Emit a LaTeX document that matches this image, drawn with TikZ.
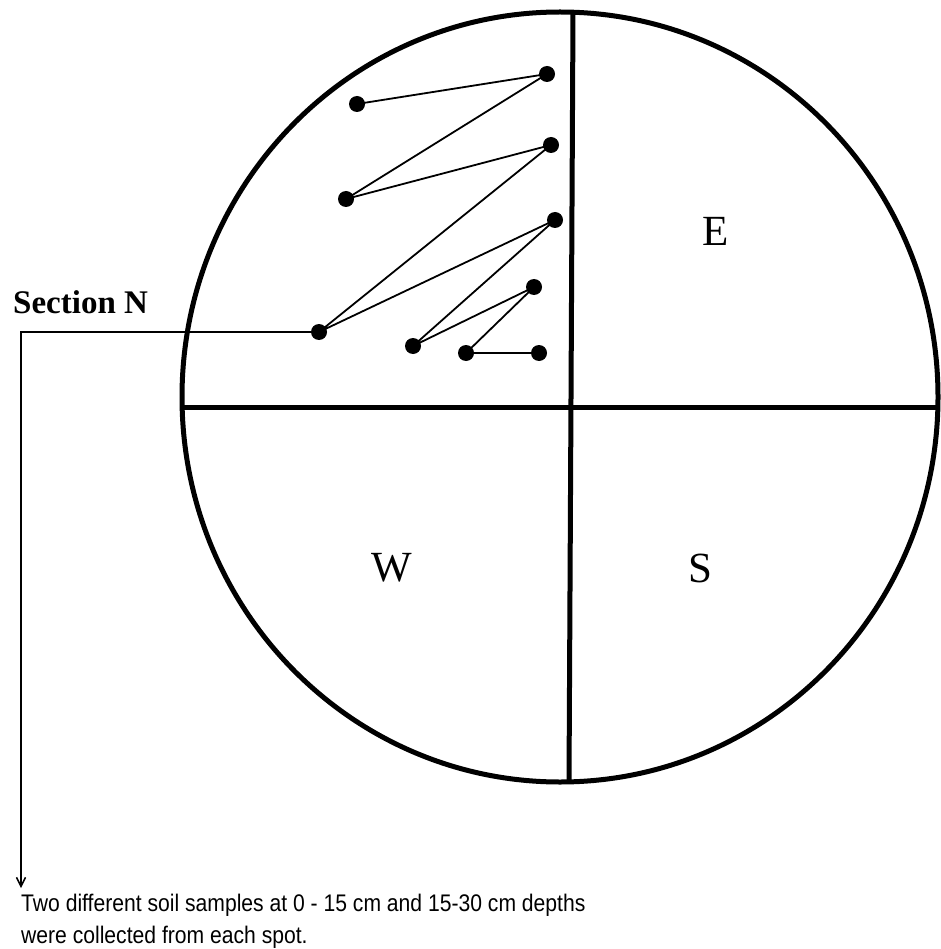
\documentclass[tikz,border=0pt]{standalone}
\usepackage{fontspec}
\setmainfont{Liberation Serif}
\newfontfamily\captionfont{Liberation Sans}[FakeStretch=0.88]
\usetikzlibrary{arrows.meta}
\begin{document}
\begin{tikzpicture}[x=1pt,y=-1pt,
  spot/.style={circle,fill=black,inner sep=0pt,minimum size=16pt},
  thinlink/.style={line width=1.8pt},
  thick/.style={line width=5pt},
  quadlabel/.style={font=\fontsize{43}{43}\selectfont,inner sep=0pt},
  captionline/.style={anchor=base west,inner sep=0pt,font=\captionfont\fontsize{24}{32}\selectfont}]
\useasboundingbox (0,0) rectangle (940,949);
% field
\draw[thick] (560,397) ellipse [x radius=378, y radius=385];
\draw[thick] (182,407) -- (938,407);
\draw[thick] (573,12) -- (569,782);
% spots
\node[spot] (p1) at (357,104) {};
\node[spot] (p2) at (547,74) {};
\node[spot] (p3) at (346,199) {};
\node[spot] (p4) at (551,145) {};
\node[spot] (p5) at (319,332) {};
\node[spot] (p6) at (555,220) {};
\node[spot] (p7) at (413,346) {};
\node[spot] (p8) at (534,287) {};
\node[spot] (p9) at (466,353) {};
\node[spot] (p10) at (539,353) {};
\draw[thinlink] (p1.center) -- (p2.center) -- (p3.center) -- (p4.center) -- (p5.center) -- (p6.center) -- (p7.center) -- (p8.center) -- (p9.center) -- (p10.center);
% labels
\node[quadlabel] (E) at (716,231) {E};
\node[quadlabel] (W) at (392,568) {W};
\node[quadlabel] (S) at (700,568) {S};
\node[anchor=base west,inner sep=0pt,font=\fontsize{33}{33}\selectfont\bfseries] (secN) at (13,313) {Section N};
% caption
\node[captionline] (cap1) at (21,911) {Two different soil samples at 0 - 15 cm and 15-30 cm depths};
\node[captionline] (cap2) at (21,943) {were collected from each spot.};
\coordinate (corner) at (21,332);
\coordinate (tip) at (21,888);
\draw[line width=1.5pt,-{Straight Barb[length=9pt,width=9pt]}] (p5.center) -- (corner) -- (tip);
\end{tikzpicture}
\end{document}
